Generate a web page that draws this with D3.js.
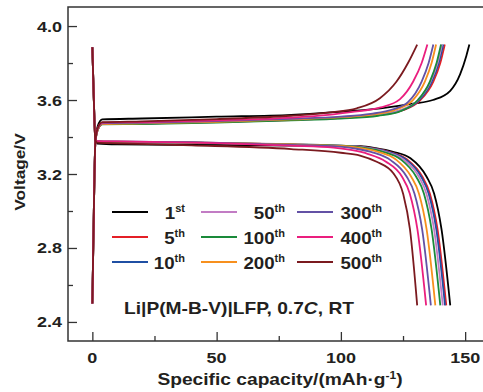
<!DOCTYPE html>
<html>
<head>
<meta charset="utf-8">
<script src="https://cdn.jsdelivr.net/npm/d3@7"></script>
<style>
  html, body { margin: 0; padding: 0; background: #fff; }
  svg { display: block; font-family: Arial, "Liberation Sans", sans-serif; font-weight: bold; }
</style>
</head>
<body>
<div id="chart"></div>
<script>
// cycles shown in the legend
const cycles = ["1", "5", "10", "50", "100", "200", "300", "400", "500"];
const suffixes = ["st", "th", "th", "th", "th", "th", "th", "th", "th"];
const colors = ["#000000", "#e41f26", "#1f4fa3", "#c27cc4", "#1a8a3a", "#f7901e", "#6351a5", "#ea1e7e", "#7b1a1f"];

// charge curves, [capacity, voltage]
const charge1 = [[0,2.5],[0.6,3.0],[1.2,3.38],[2.2,3.46],[4,3.495],[20,3.5],[50,3.51],[80,3.52],[96,3.533],[116,3.555],[129,3.58],[137,3.6],[144,3.65],[148,3.74],[150.5,3.84],[151.7,3.9]];
const charge5 = [[0,2.5],[0.6,3.0],[1.2,3.37],[2.2,3.44],[4,3.47],[20,3.472],[50,3.48],[80,3.492],[100,3.503],[115,3.518],[125,3.545],[132,3.6],[137.2,3.7],[140,3.8],[141.8,3.9]];
const charge10 = [[0,2.5],[0.6,3.0],[1.2,3.37],[2.2,3.44],[4,3.47],[20,3.473],[50,3.482],[80,3.493],[100,3.504],[115,3.52],[124.5,3.545],[131.5,3.6],[136.6,3.7],[139.4,3.8],[141.2,3.9]];
const charge50 = [[0,2.5],[0.6,3.0],[1.2,3.37],[2.2,3.44],[4,3.47],[20,3.474],[50,3.483],[80,3.494],[100,3.505],[115,3.52],[124,3.546],[131,3.6],[136.1,3.7],[138.9,3.8],[140.7,3.9]];
const charge100 = [[0,2.5],[0.6,3.0],[1.2,3.37],[2.2,3.44],[4,3.468],[20,3.47],[50,3.478],[80,3.49],[100,3.5],[115,3.515],[124,3.54],[131,3.6],[135.8,3.7],[138.5,3.8],[140.3,3.9]];
const charge200 = [[0,2.5],[0.6,3.0],[1.2,3.37],[2.2,3.44],[4,3.47],[20,3.474],[50,3.482],[80,3.495],[100,3.507],[113,3.522],[122,3.548],[129,3.6],[133.8,3.7],[136.5,3.8],[138.3,3.9]];
const charge300 = [[0,2.5],[0.6,3.0],[1.2,3.37],[2.2,3.445],[4,3.474],[20,3.477],[50,3.486],[80,3.498],[100,3.51],[112,3.525],[121,3.55],[127.1,3.59],[132.5,3.7],[135.3,3.8],[137.2,3.9]];
const charge400 = [[0,2.5],[0.6,3.0],[1.2,3.37],[2.2,3.45],[4,3.478],[20,3.481],[50,3.49],[80,3.505],[95,3.52],[104,3.535],[116,3.56],[123.8,3.605],[129.1,3.7],[132.5,3.8],[134.8,3.9]];
const charge500 = [[0,2.5],[0.6,3.0],[1.2,3.37],[2.2,3.45],[4,3.48],[20,3.485],[50,3.497],[80,3.515],[95.6,3.533],[106.4,3.555],[115.7,3.61],[122.4,3.7],[127,3.8],[130.7,3.9]];

// discharge curves, [capacity, voltage]
const discharge1 = [[0,3.885],[0.6,3.6],[1.2,3.385],[2,3.365],[10,3.36],[40,3.357],[80,3.354],[108,3.35],[114,3.34],[121,3.32],[128,3.285],[134.5,3.185],[137.5,3.095],[140.5,2.9],[144,2.49]];
const discharge5 = [[0,3.885],[0.6,3.6],[1.2,3.385],[2,3.375],[10,3.373],[40,3.37],[80,3.36],[106,3.35],[112.5,3.34],[119.5,3.32],[126.5,3.28],[132.8,3.185],[135.8,3.095],[138.9,2.9],[142.4,2.49]];
const discharge10 = [[0,3.885],[0.6,3.6],[1.2,3.385],[2,3.375],[10,3.373],[40,3.37],[80,3.36],[105.5,3.35],[112,3.34],[119,3.32],[126,3.28],[132.3,3.185],[135.3,3.095],[138.4,2.9],[141.9,2.49]];
const discharge50 = [[0,3.885],[0.6,3.6],[1.2,3.385],[2,3.376],[10,3.374],[40,3.371],[80,3.361],[104.5,3.35],[111,3.34],[118,3.32],[125,3.28],[131.4,3.185],[134.4,3.095],[137.5,2.9],[141,2.49]];
const discharge100 = [[0,3.885],[0.6,3.6],[1.2,3.385],[2,3.375],[10,3.373],[40,3.37],[80,3.36],[103.5,3.35],[110,3.34],[117,3.32],[124,3.28],[130.3,3.185],[133.4,3.095],[136.5,2.9],[140,2.49]];
const discharge200 = [[0,3.885],[0.6,3.6],[1.2,3.385],[2,3.377],[10,3.375],[40,3.371],[80,3.36],[101.5,3.35],[108,3.34],[115,3.32],[122,3.28],[128.3,3.185],[131.4,3.095],[134.5,2.9],[138,2.49]];
const discharge300 = [[0,3.885],[0.6,3.6],[1.2,3.385],[2,3.378],[10,3.376],[40,3.372],[80,3.358],[99.5,3.348],[106,3.337],[113,3.316],[120,3.275],[126.5,3.185],[129.6,3.095],[132.7,2.9],[136.2,2.49]];
const discharge400 = [[0,3.885],[0.6,3.6],[1.2,3.385],[2,3.378],[10,3.376],[40,3.37],[80,3.353],[97,3.343],[104,3.33],[111,3.308],[118,3.268],[124.6,3.185],[127.7,3.095],[130.8,2.9],[134.3,2.49]];
const discharge500 = [[0,3.885],[0.6,3.6],[1.2,3.38],[2,3.37],[10,3.366],[40,3.355],[80,3.335],[100,3.315],[107.7,3.3],[114.4,3.266],[121.1,3.204],[125.1,3.09],[127.8,2.9],[130.7,2.49]];

const chargeCurves = [charge1, charge5, charge10, charge50, charge100, charge200, charge300, charge400, charge500];
const dischargeCurves = [discharge1, discharge5, discharge10, discharge50, discharge100, discharge200, discharge300, discharge400, discharge500];

const xTicks = [0, 50, 100, 150];
const xMinor = [25, 75, 125];
const yTicks = [2.4, 2.8, 3.2, 3.6, 4.0];
const yMinor = [2.6, 3.0, 3.4, 3.8];

const width = 483, height = 392;
const margin = {left: 68, top: 7, bottom: 341};

const svg = d3.select("#chart").append("svg")
  .attr("width", width)
  .attr("height", height);

const x = d3.scaleLinear().domain([-9.8, 160]).range([margin.left, 490]);
const y = d3.scaleLinear().domain([2.297, 4.103]).range([margin.bottom, margin.top]);

// text in the picture is drawn a bit wide, so stretch it sideways
function label(g, px, py, txt, size, anchor, stretch) {
  const t = g.append("g")
    .attr("transform", "translate(" + px + "," + py + ") scale(" + (stretch || 1.2) + ",1)")
    .append("text")
    .attr("text-anchor", anchor || "middle")
    .attr("font-size", size)
    .attr("fill", "#231f20");
  if (txt) t.text(txt);
  return t;
}

// curves
const line = d3.line()
  .x(function(d) { return x(d[0]); })
  .y(function(d) { return y(d[1]); })
  .curve(d3.curveMonotoneX);

const plot = svg.append("g");
cycles.forEach(function(c, i) {
  plot.append("path")
    .attr("d", line(chargeCurves[i]))
    .attr("fill", "none")
    .attr("stroke", colors[i])
    .attr("stroke-width", 1.8);
  plot.append("path")
    .attr("d", line(dischargeCurves[i]))
    .attr("fill", "none")
    .attr("stroke", colors[i])
    .attr("stroke-width", 1.8);
});

// axes
const axisColor = "#333";
const yAxis = svg.append("g").attr("transform", "translate(" + margin.left + ",0)");
yAxis.call(d3.axisRight(y).tickValues(yTicks).tickSize(9).tickFormat(""));
yAxis.append("g").call(d3.axisRight(y).tickValues(yMinor).tickSize(5).tickFormat(""));
yAxis.selectAll(".domain").remove();

const xAxis = svg.append("g").attr("transform", "translate(0," + margin.bottom + ")");
xAxis.call(d3.axisTop(x).tickValues(xTicks).tickSize(9).tickFormat(""));
xAxis.append("g").call(d3.axisTop(x).tickValues(xMinor).tickSize(5).tickFormat(""));
xAxis.selectAll(".domain").remove();

svg.selectAll(".tick line").attr("stroke", axisColor).attr("stroke-width", 1.3);

svg.append("path")
  .attr("d", "M" + width + "," + margin.top + "H" + margin.left + "V" + margin.bottom + "H" + width)
  .attr("fill", "none")
  .attr("stroke", axisColor)
  .attr("stroke-width", 1.5);

yTicks.forEach(function(v) {
  label(svg, 62, y(v) + 5.5, d3.format(".1f")(v), 15, "end");
});
xTicks.forEach(function(v) {
  label(svg, x(v), 363, String(v), 15, "middle");
});

// axis titles
const xt = label(svg, 280, 385, "Specific capacity/(mAh·g", 16, "middle");
xt.append("tspan").attr("font-size", 10).attr("dy", -6).text("-1");
xt.append("tspan").attr("dy", 6).text(")");

svg.append("g")
  .attr("transform", "translate(25,172) rotate(-90) scale(1.15,1)")
  .append("text")
  .attr("text-anchor", "middle")
  .attr("font-size", 15)
  .attr("fill", "#231f20")
  .text("Voltage/V");

// legend
const colLine = [112, 201, 297];
const colText = [185, 285, 382];
const rowY = [212, 237, 262];
cycles.forEach(function(c, i) {
  const col = Math.floor(i / 3), row = i % 3;
  svg.append("line")
    .attr("x1", colLine[col]).attr("x2", colLine[col] + 36)
    .attr("y1", rowY[row]).attr("y2", rowY[row])
    .attr("stroke", colors[i])
    .attr("stroke-width", 2);
  const t = label(svg, colText[col], rowY[row] + 6.5, null, 17, "end", 1.1);
  t.append("tspan").text(c);
  t.append("tspan").attr("font-size", 10).attr("dy", -7).text(suffixes[i]);
});

// annotation
const note = label(svg, 239, 314, "Li|P(M-B-V)|LFP, 0.7", 16, "middle");
note.append("tspan").attr("font-style", "italic").text("C");
note.append("tspan").text(", RT");
</script>
</body>
</html>
